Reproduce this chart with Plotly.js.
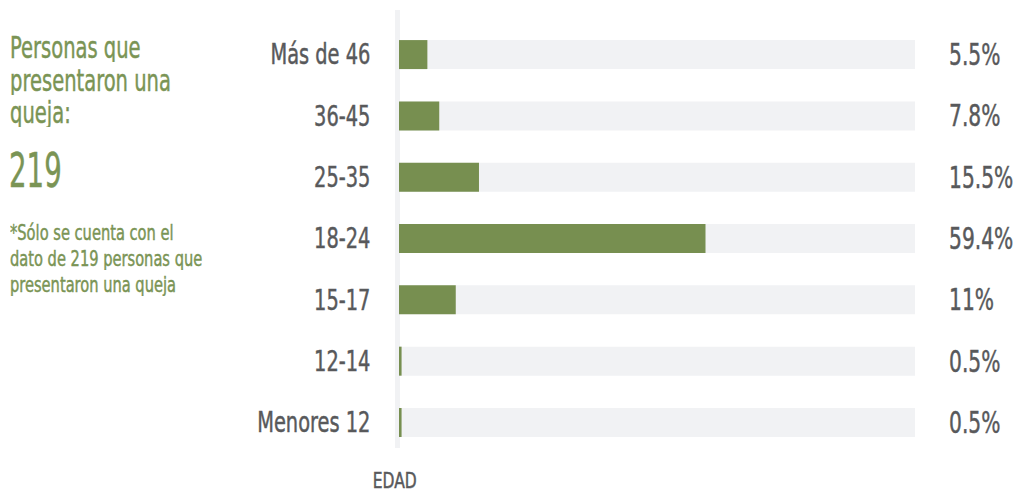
<!DOCTYPE html>
<html>
<head>
<meta charset="utf-8">
<script src="https://cdn.plot.ly/plotly-3.0.1.min.js"></script>
<style>
html,body{margin:0;padding:0;background:#fff;}
#chart{width:1015px;height:492px;}
</style>
</head>
<body>
<div id="chart"></div>
<script>
// Data
const categories = ["Menores 12", "12-14", "15-17", "18-24", "25-35", "36-45", "Más de 46"];
const percentages = [0.5, 0.5, 11, 59.4, 15.5, 7.8, 5.5];
const valueLabels = ["0.5%", "0.5%", "11%", "59.4%", "15.5%", "7.8%", "5.5%"];
const totalScale = categories.map(() => 100);
const axisTitle = "EDAD";
const sideTitle = ["Personas que", "presentaron una", "queja:"];
const totalCount = "219";
const footnote = ["*Sólo se cuenta con el", "dato de 219 personas que", "presentaron una queja"];

const FONT = "'DejaVu Sans Condensed', 'Liberation Sans Narrow', sans-serif";
const GREEN = "#778f50";
const GREEN_TXT = "#7a9455";
const GREY_TXT = "#58595b";
const BG = "#f1f2f4";

const L = 399, R = 100, T = 10, B = 44, W = 1015, H = 492;
const pw = W - L - R, ph = H - T - B;
const px2x = x => (x - L) / pw;
const py2y = y => (H - B - y) / ph;

const traces = [
  {type: "bar", orientation: "h", y: categories, x: totalScale, marker: {color: BG}, width: 0.473, hoverinfo: "skip", showlegend: false},
  {type: "bar", orientation: "h", y: categories, x: percentages, marker: {color: GREEN}, width: 0.473, showlegend: false}
];

const annotations = [];
const squeezeInfo = [];
function addAnn(a, s, keep) { annotations.push(a); squeezeInfo.push({s: s, keep: keep}); }

categories.forEach((c, i) => {
  addAnn({xref: "paper", yref: "y", x: px2x(947), y: c, xanchor: "left", yanchor: "middle",
    text: valueLabels[i], showarrow: false, font: {family: FONT, size: 30, color: GREY_TXT}}, 0.75, "left");
});
const titleY = [47, 80, 112];
sideTitle.forEach((t, i) => {
  addAnn({xref: "paper", yref: "paper", x: px2x(8), y: py2y(titleY[i]), xanchor: "left", yanchor: "middle",
    height: 30, text: t, showarrow: false, font: {family: FONT, size: 31, color: GREEN_TXT}}, 0.70, "left");
});
addAnn({xref: "paper", yref: "paper", x: px2x(7), y: py2y(170), xanchor: "left", yanchor: "middle",
  text: totalCount, showarrow: false, font: {family: FONT, size: 48, color: GREEN_TXT}}, 0.64, "left");
const footY = [232, 258, 284];
footnote.forEach((t, i) => {
  addAnn({xref: "paper", yref: "paper", x: px2x(8), y: py2y(footY[i]), xanchor: "left", yanchor: "middle",
    height: 24, text: t, showarrow: false, font: {family: FONT, size: 22, color: GREEN_TXT}}, 0.74, "left");
});
addAnn({xref: "paper", yref: "paper", x: px2x(395), y: py2y(481), xanchor: "center", yanchor: "middle",
  text: axisTitle, showarrow: false, font: {family: FONT, size: 21, color: GREY_TXT}}, 0.82, "center");

const layout = {
  width: W, height: H,
  margin: {l: L, r: R, t: T, b: B, pad: 0},
  paper_bgcolor: "#fff", plot_bgcolor: "#fff",
  barmode: "overlay",
  showlegend: false,
  xaxis: {range: [0, 100], visible: false, fixedrange: true},
  yaxis: {type: "category", range: [-0.416, 6.727], showgrid: false, zeroline: false, showline: false,
    ticks: "outside", ticklen: 22, tickcolor: "rgba(0,0,0,0)",
    tickfont: {family: FONT, size: 28, color: GREY_TXT}, fixedrange: true},
  shapes: [
    {type: "rect", xref: "paper", yref: "paper", x0: px2x(395), x1: px2x(400), y0: 0, y1: 1,
     fillcolor: BG, line: {width: 0}, layer: "below"}
  ],
  annotations: annotations
};

// Horizontally condense a text element while keeping one edge in place
function squeeze(el, s, keep, bgRect) {
  try {
    const b0 = el.getBBox();
    const len = el.getComputedTextLength();
    if (!len) return;
    el.setAttribute("lengthAdjust", "spacingAndGlyphs");
    el.setAttribute("textLength", (len * s).toFixed(2));
    const b1 = el.getBBox();
    let dx;
    if (keep === "left") dx = b0.x - b1.x;
    else if (keep === "right") dx = (b0.x + b0.width) - (b1.x + b1.width);
    else dx = (b0.x + b0.width / 2) - (b1.x + b1.width / 2);
    const x = parseFloat(el.getAttribute("x") || "0");
    el.setAttribute("x", (x + dx).toFixed(2));
    // thicken strokes slightly to mimic the medium weight of the original
    const fill = el.style.fill;
    if (fill) { el.style.stroke = fill; el.style.strokeWidth = "0.45px"; }
    if (bgRect) {
      const b2 = el.getBBox();
      const rx = parseFloat(bgRect.getAttribute("x") || "0");
      const rw = parseFloat(bgRect.getAttribute("width") || "0");
      const padL = b0.x - rx;
      const padR = (rx + rw) - (b0.x + b0.width);
      bgRect.setAttribute("x", (b2.x - padL).toFixed(2));
      bgRect.setAttribute("width", Math.max(0, b2.width + padL + padR).toFixed(2));
    }
  } catch (e) {}
}

Plotly.newPlot("chart", traces, layout, {displayModeBar: false, staticPlot: true}).then(gd => {
  gd.querySelectorAll(".ytick text").forEach(t => squeeze(t, 0.77, "right", null));
  gd.querySelectorAll("g.annotation").forEach(g => {
    const idx = parseInt(g.getAttribute("data-index"), 10);
    const info = squeezeInfo[idx];
    const t = g.querySelector("text.annotation-text");
    const r = g.querySelector("rect.bg");
    if (info && t) squeeze(t, info.s, info.keep, r);
  });
});
</script>
</body>
</html>
